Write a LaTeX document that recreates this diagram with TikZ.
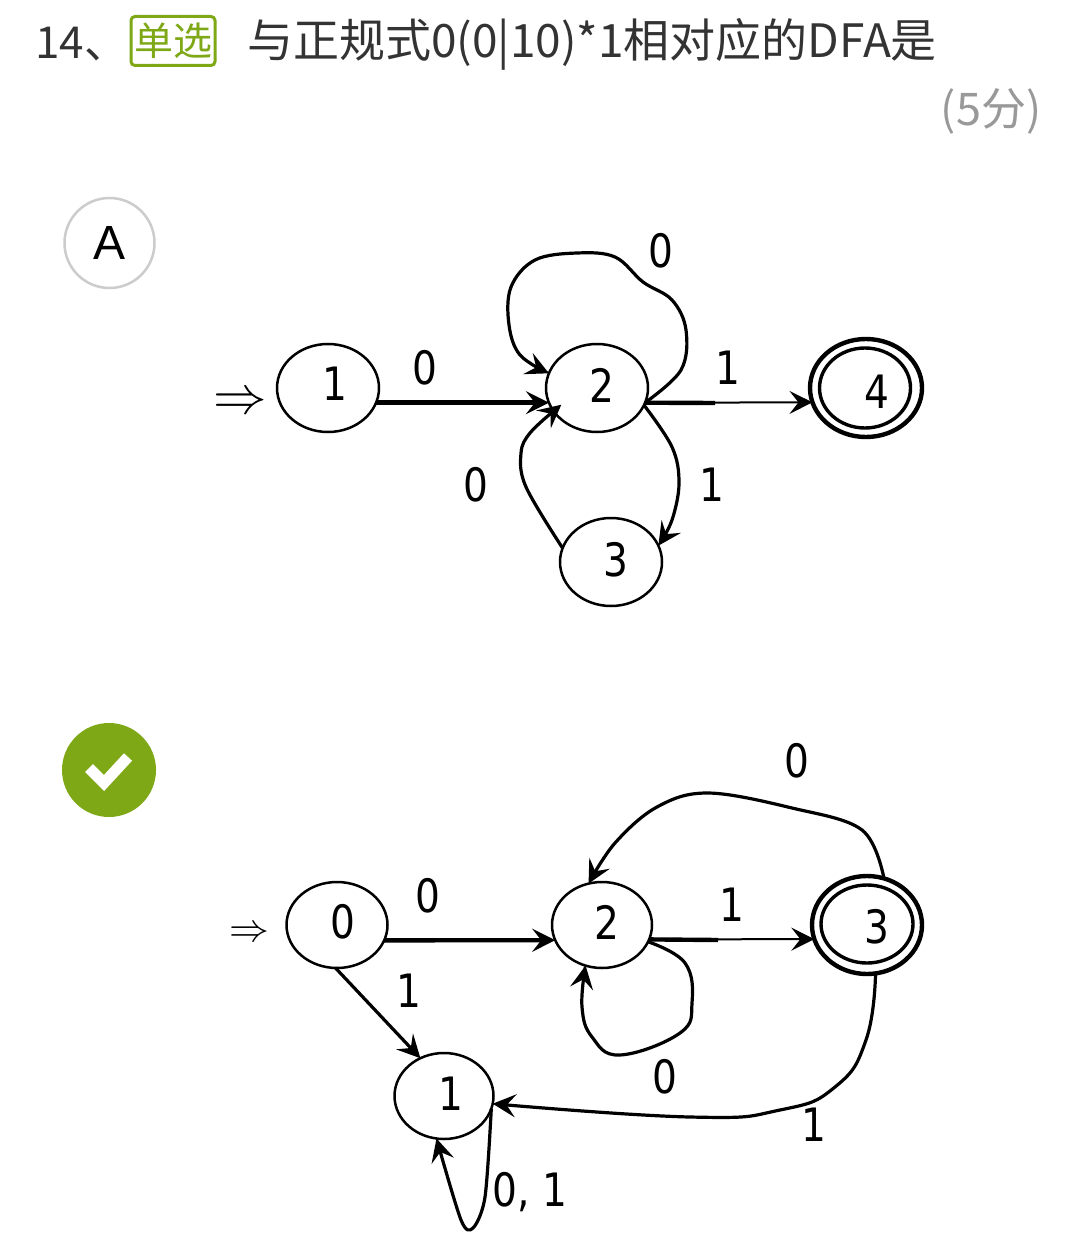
\documentclass[tikz,border=0pt]{standalone}
\usepackage{amsmath}
\usepackage{fontspec}
\usepackage{xcolor}
\usetikzlibrary{shapes.geometric, arrows.meta, positioning}
\setmainfont{Liberation Sans}
\newfontfamily\cjkfont{Noto Sans CJK SC}
\newfontfamily\digitfont[FakeStretch=0.85]{DejaVu Sans}
\definecolor{headink}{HTML}{333333}
\definecolor{scoregray}{HTML}{999999}
\definecolor{optgreen}{HTML}{7FA816}
\definecolor{ringgray}{HTML}{CCCCCC}
\tikzset{
  state/.style={ellipse, draw=black, line width=2.5pt, inner sep=0pt, outer sep=0pt, minimum width=102pt, minimum height=88pt},
  digit/.style={inner sep=0pt, font=\digitfont\fontsize{46}{46}\selectfont},
  wire/.style={line width=3.2pt, -{Stealth[length=23pt,width=23pt,inset=9pt]}},
  heavy/.style={line width=4.4pt},
  headtext/.style={inner sep=0pt, anchor=west, text=headink, font=\cjkfont\fontsize{46}{46}\selectfont}
}
\begin{document}
\begin{tikzpicture}[x=1pt, y=-1pt]
  \useasboundingbox (0,0) rectangle (1080,1238);
  \fill[white] (0,0) rectangle (1080,1238);

  % === HEADER ===
  \node[headtext, font=\cjkfont\fontsize{44}{44}\selectfont] (qnum) at (35,44) {14、};
  \node[draw=optgreen, line width=3pt, rounded corners=4pt, minimum width=84pt, minimum height=49pt, inner sep=0pt,
    text=optgreen, font=\cjkfont\fontsize{39}{39}\selectfont] (qtype) at (173,41) {单选};
  \node[headtext] (qtext) at (247,44) {与正规式0(0|10)*1相对应的DFA是};
  \node[inner sep=0pt, text=scoregray, font=\cjkfont\fontsize{45}{45}\selectfont] (qscore) at (991,111) {(5分)};

  % === OPTION A ===
  \node[circle, draw=ringgray, line width=2.5pt, minimum size=90pt, inner sep=0pt,
    font=\fontsize{48}{48}\selectfont] (optA) at (109.5,243) {A};

  \node[state] (a1) at (328,388) {};
  \node[state] (a2) at (597,388) {};
  \node[state] (a3) at (611,562) {};
  \node[state, line width=4.4pt, minimum width=112pt, minimum height=98pt] (a4) at (866,388) {};
  \node[state, line width=3.4pt, minimum width=91pt, minimum height=80pt] (a4in) at (865,388) {};

  % state numbers and edge labels
  \foreach \x/\y/\t [count=\i] in {335/384/1, 602/385/2, 616/560/3, 877/392/4,
      425/368/0, 661/251/0, 728/368/1, 476/485/0, 712/485/1} {
    \node[digit] (alab\i) at (\x,\y) {\t};
  }
  \node[inner sep=0pt, scale=2.15, transform shape, font=\fontsize{24}{24}\selectfont] (astart) at (240,404) {$\Rightarrow$};

  \draw[wire, heavy] (a1.-17) -- (a2.197);
  \draw[wire, line width=2pt] (a2.-17) -- (a4.195);
  \coordinate (asplit) at (715,403);
  \draw[heavy] (a2.-17) -- (asplit);
  \draw[wire] plot[smooth, tension=0.6] coordinates {(a2.-17) (681,370) (686,330) (672,300) (643,282)
    (615,257) (577,253) (535,260) (511,287) (509,325) (520,355) (a2.163)};
  \draw[wire] plot[smooth, tension=0.6] coordinates {(a2.-20) (672,447) (679,483) (672,520) (a3.19)};
  \draw[wire, shorten >=-10pt] plot[smooth, tension=0.6] coordinates {(a3.164) (526,487) (521,453) (530,433) (a2.208)};

  % === OPTION B ===
  \node[circle, fill=optgreen, minimum size=94pt, inner sep=0pt] (optB) at (109,770) {};
  \draw[white, line width=11pt] (89,768) -- (104,783) -- (128,757);

  \node[state, minimum width=101pt, minimum height=86pt] (b0) at (337,925) {};
  \node[state, minimum width=100pt, minimum height=86pt] (b2) at (602,925) {};
  \node[state, minimum width=99pt, minimum height=86pt] (b1) at (444,1096) {};
  \node[state, line width=4.4pt, minimum width=110pt, minimum height=98pt] (b3) at (867,925) {};
  \node[state, line width=3.4pt, minimum width=92pt, minimum height=78pt] (b3in) at (867,924) {};

  % state numbers and edge labels
  \foreach \x/\y/\t [count=\i] in {343/922/0, 607/922/2, 877/927/3, 451/1094/1,
      428/896/0, 732/905/1, 797/761/0, 409/991/1, 665/1077/0, 814/1125/1} {
    \node[digit] (blab\i) at (\x,\y) {\t};
  }
  \node[digit] (bloop) at (530,1192) {0, 1};
  \node[inner sep=0pt, scale=1.6, transform shape, font=\fontsize{24}{24}\selectfont] (bstart) at (249,934) {$\Rightarrow$};

  \draw[wire, heavy] (b0.-18) -- (b2.198);
  \draw[wire, line width=2pt] (b2.-17) -- (b3.195);
  \coordinate (bsplit) at (718,940);
  \draw[heavy] (b2.-17) -- (bsplit);
  \draw[wire] (b0.-92) -- (b1.122);
  \draw[wire] plot[smooth, tension=0.6] coordinates {(b3.70) (862,830) (792,808) (708,793) (657,807)
    (615,843) (b2.108)};
  \draw[wire] plot[smooth, tension=0.7] coordinates {(b2.-20) (685,963) (692,1003) (680,1033) (620,1055)
    (592,1037) (582,1007) (b2.-112)};
  \draw[wire] plot[smooth, tension=0.8] coordinates {(b3.-80) (866,1040) (835,1087) (780,1110) (690,1117) (b1.-9)};
  \draw[wire] plot[smooth, tension=0.5] coordinates {(b1.-15) (485,1197) (473,1228) (461,1220) (b1.-100)};
\end{tikzpicture}
\end{document}
